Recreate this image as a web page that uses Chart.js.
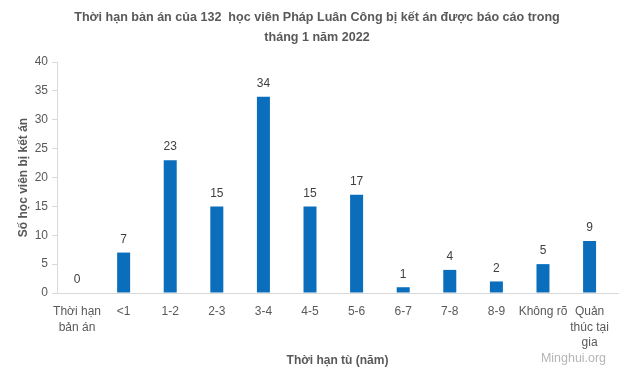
<!DOCTYPE html>
<html>
<head>
<meta charset="utf-8">
<script src="https://cdn.jsdelivr.net/npm/chart.js@4"></script>
<style>
  html, body { margin: 0; padding: 0; background: #ffffff; }
  #wrap { width: 631px; height: 380px; position: relative; }
</style>
</head>
<body>
<div id="wrap"><canvas id="c"></canvas></div>
<script>
const categories = [
  ['Thời hạn', 'bản án'], '<1', '1-2', '2-3', '3-4', '4-5', '5-6', '6-7', '7-8', '8-9', 'Không rõ', ['Quản', 'thúc tại', 'gia']
];
const counts = [0, 7, 23, 15, 34, 15, 17, 1, 4, 2, 5, 9];
const yTicks = [0, 5, 10, 15, 20, 25, 30, 35, 40];

const titleLines = [
  'Thời hạn bản án của 132  học viên Pháp Luân Công bị kết án được báo cáo trong',
  'tháng 1 năm 2022'
];
const xTitle = 'Thời hạn tù (năm)';
const FONT = "'Liberation Sans', 'DejaVu Sans', sans-serif";
const NARROW = "'Liberation Sans Narrow', 'Liberation Sans', sans-serif";
const GREY = '#595959';

// pick a font size so a text takes the wanted width
function fitFont(ctx, text, weight, family, width) {
  ctx.font = weight + ' 20px ' + family;
  const size = 20 * width / ctx.measureText(text).width;
  return weight + ' ' + size.toFixed(2) + 'px ' + family;
}

const extras = {
  id: 'extras',
  afterDatasetsDraw(chart) {
    const ctx = chart.ctx;
    const meta = chart.getDatasetMeta(0);
    const area = chart.chartArea;
    ctx.save();
    ctx.fillStyle = '#404040';
    ctx.font = '12px ' + FONT;
    ctx.textAlign = 'center';
    ctx.textBaseline = 'bottom';
    meta.data.forEach((bar, i) => {
      ctx.fillText(String(counts[i]), bar.x, bar.y - 7);
    });
    // chart title
    ctx.fillStyle = GREY;
    ctx.font = fitFont(ctx, titleLines[0], 'bold', NARROW, 486);
    ctx.textBaseline = 'middle';
    ctx.fillText(titleLines[0], 317, 18);
    ctx.fillText(titleLines[1], 317, 38);
    // x axis title
    ctx.font = 'bold 12px ' + FONT;
    ctx.fillText(xTitle, (area.left + area.right) / 2, 361);
    // watermark
    ctx.fillStyle = '#b5b5b5';
    ctx.font = fitFont(ctx, 'Minghui.org', 'normal', NARROW, 65);
    ctx.textAlign = 'left';
    ctx.fillText('Minghui.org', 541, 359);
    ctx.restore();
  }
};

new Chart(document.getElementById('c'), {
  type: 'bar',
  data: {
    datasets: [{
      data: counts.map((v, i) => ({ x: i, y: v })),
      backgroundColor: '#0a6ebd',
      barThickness: 13,
      inflateAmount: 0
    }]
  },
  options: {
    responsive: true,
    maintainAspectRatio: false,
    animation: false,
    layout: { padding: { top: 62, right: 13, left: 12, bottom: 0 } },
    plugins: {
      legend: { display: false },
      tooltip: { enabled: false },
      title: { display: false }
    },
    scales: {
      x: {
        type: 'linear',
        offset: false,
        min: -0.43, max: 11.61,
        afterFit(s) { s.height = 87; },
        afterBuildTicks(s) { s.ticks = categories.map((c, i) => ({ value: i })); },
        grid: { drawOnChartArea: false, drawTicks: false, offset: false, color: '#d9d9d9' },
        border: { color: '#d9d9d9' },
        ticks: {
          color: GREY, font: { size: 12, family: FONT, lineHeight: 1.3 }, maxRotation: 0, autoSkip: false, padding: 11,
          callback: (v) => categories[v]
        },
        title: { display: false }
      },
      y: {
        min: 0, max: 40,
        afterFit(s) { s.width = 45; },
        afterBuildTicks(s) { s.ticks = yTicks.map(v => ({ value: v })); },
        grid: { drawOnChartArea: false, color: '#d9d9d9', tickLength: 5 },
        border: { color: '#d9d9d9' },
        ticks: { color: GREY, font: { size: 12, family: FONT }, padding: 4 },
        title: { display: true, text: 'Số học viên bị kết án', color: GREY, font: { size: 12, weight: 'bold', family: FONT }, padding: { bottom: 2 } }
      }
    }
  },
  plugins: [extras]
});
</script>
</body>
</html>
